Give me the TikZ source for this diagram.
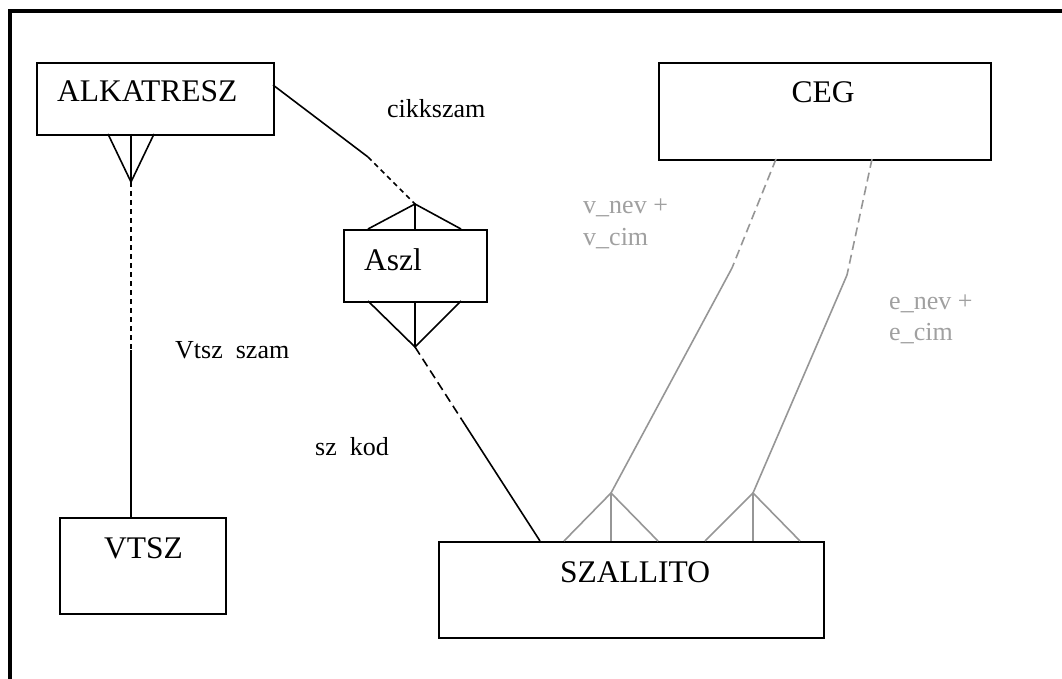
\documentclass[tikz,border=0pt]{standalone}
\usepackage{fontspec}
\setmainfont{Liberation Serif}
\usetikzlibrary{calc}
\definecolor{lgray}{RGB}{150,150,150}
\definecolor{tgray}{RGB}{160,160,160}
\begin{document}
\begin{tikzpicture}[x=1pt,y=-1pt,
  ent/.style={draw,line width=1.7pt,inner sep=0pt,anchor=north west},
  etext/.style={inner sep=0pt,anchor=base west,font=\fontsize{31.5}{36}\selectfont},
  atext/.style={inner sep=0pt,anchor=base west,font=\fontsize{26}{30}\selectfont},
  gtext/.style={atext,text=tgray},
  conn/.style={line width=1.6pt},
  dconn/.style={line width=1.6pt,dash pattern=on 5pt off 4pt},
  ldconn/.style={line width=1.6pt,dash pattern=on 9pt off 5pt},
  gconn/.style={line width=1.6pt,lgray},
  gdconn/.style={line width=1.6pt,lgray,dash pattern=on 9pt off 5pt}]
\useasboundingbox (0,0) rectangle (1062,679);
% frame
\draw[line width=3.8pt] (10,690) -- (10,11) -- (1070,11);
% entities
\node[ent,minimum width=237pt,minimum height=72pt] (alk) at (36,62) {};
\node[ent,minimum width=332pt,minimum height=97pt] (ceg) at (658,62) {};
\node[ent,minimum width=143pt,minimum height=72pt] (aszl) at (343,229) {};
\node[ent,minimum width=166pt,minimum height=96pt] (vtsz) at (59,517) {};
\node[ent,minimum width=385pt,minimum height=96pt] (szal) at (438,541) {};
% entity names
\node[etext] (talk) at (57,102) {ALKATRESZ};
\node[etext,anchor=base] (tceg) at (823,103) {CEG};
\node[etext] (taszl) at (364,270) {Aszl};
\node[etext] (tvtsz) at (104,558) {VTSZ};
\node[etext] (tszal) at (560,582) {SZALLITO};
% connector labels
\node[atext] (lcikk) at (387,118) {cikkszam};
\node[atext] (lvtsz) at (175,358) {Vtsz\ \ szam};
\node[atext] (lszkod) at (315,455) {sz\ \ kod};
\node[gtext] (lv1) at (583,214) {v\_nev +};
\node[gtext] (lv2) at (583,245) {v\_cim};
\node[gtext] (le1) at (889,309) {e\_nev +};
\node[gtext] (le2) at (889,340) {e\_cim};
% coordinates
\coordinate (a1) at (273,85);
\coordinate (a2) at (368,157);
\coordinate (aszltop) at (415,204);
\coordinate (aszlbot) at (415,347);
\coordinate (s1) at (462,420);
\coordinate (s2) at (540,541);
\coordinate (alkfoot) at (131,182);
\coordinate (v1) at (131,350);
\coordinate (v2) at (131,517);
\coordinate (c1) at (776,159);
\coordinate (c2) at (732,268);
\coordinate (f1) at (611,493);
\coordinate (c3) at (872,159);
\coordinate (c4) at (847,275);
\coordinate (f2) at (753,493);
% ALKATRESZ - Aszl
\draw[conn] (a1) -- (a2);
\draw[dconn] (a2) -- (aszltop);
\draw[conn] (368,229) -- (aszltop) -- (461,229);
\draw[conn] (aszltop) -- (415,229);
% Aszl - SZALLITO
\draw[conn] (368,301) -- (aszlbot) -- (461,301);
\draw[conn] (415,301) -- (aszlbot);
\draw[ldconn] (aszlbot) -- (s1);
\draw[conn] (s1) -- (s2);
% ALKATRESZ - VTSZ
\draw[conn] (108,134) -- (alkfoot) -- (154,134);
\draw[conn] (131,134) -- (alkfoot);
\draw[dconn] (alkfoot) -- (v1);
\draw[conn] (v1) -- (v2);
% CEG - SZALLITO (gray)
\draw[gdconn] (c1) -- (c2);
\draw[gconn] (c2) -- (f1);
\draw[gconn] (564,541) -- (f1) -- (658,541);
\draw[gconn] (f1) -- (611,541);
\draw[gdconn] (c3) -- (c4);
\draw[gconn] (c4) -- (f2);
\draw[gconn] (705,541) -- (f2) -- (800,541);
\draw[gconn] (f2) -- (753,541);
\end{tikzpicture}
\end{document}
